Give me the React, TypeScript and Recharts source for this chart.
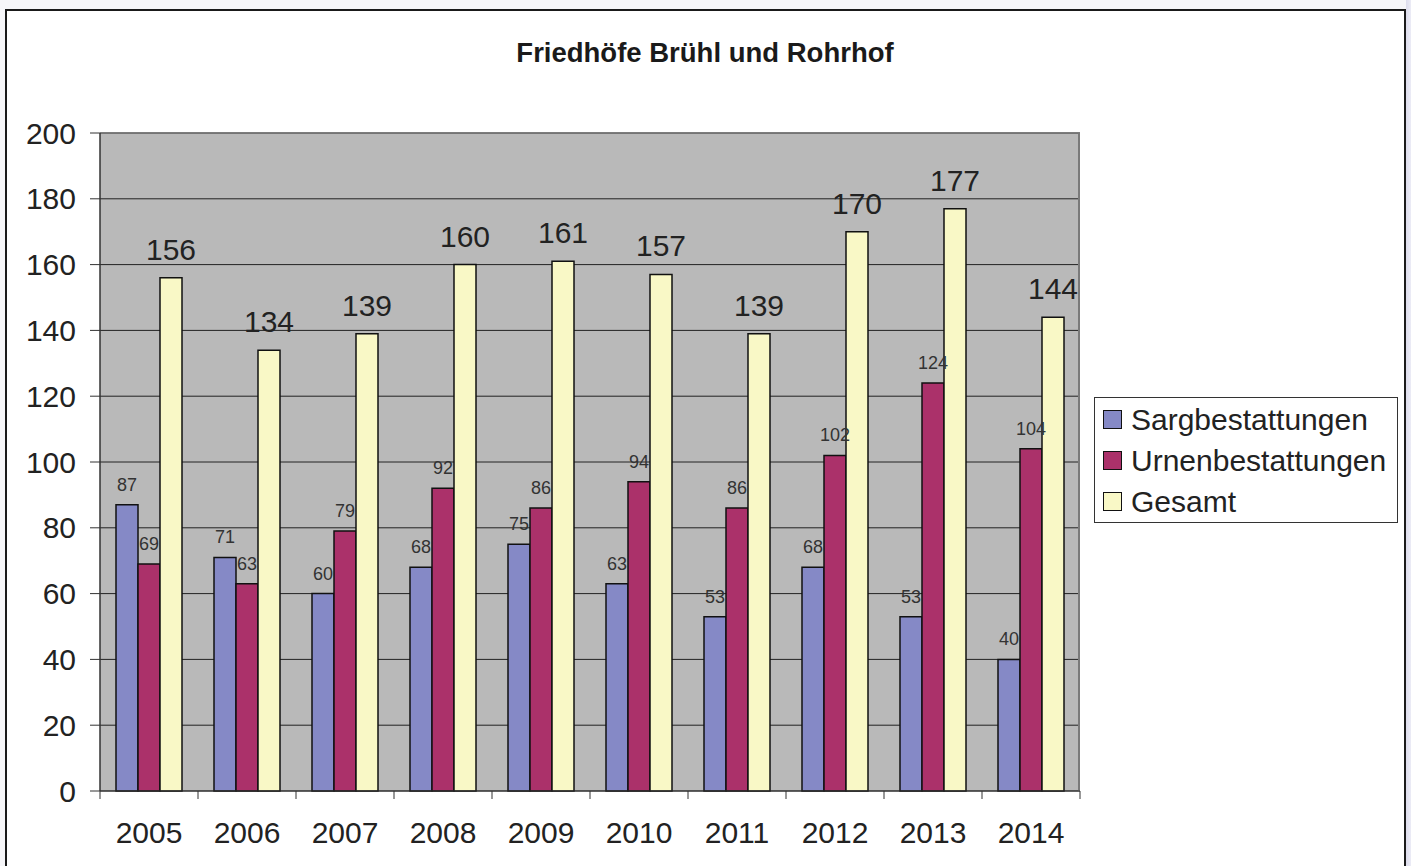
import React from 'react';
import { BarChart, Bar, XAxis, YAxis, CartesianGrid, Legend, LabelList, ReferenceLine } from 'recharts';

const years = ['2005', '2006', '2007', '2008', '2009', '2010', '2011', '2012', '2013', '2014'];
const sarg = [87, 71, 60, 68, 75, 63, 53, 68, 53, 40];
const urnen = [69, 63, 79, 92, 86, 94, 86, 102, 124, 104];
const gesamt = [156, 134, 139, 160, 161, 157, 139, 170, 177, 144];
const yTicks = [0, 20, 40, 60, 80, 100, 120, 140, 160, 180, 200];

const data = years.map((year, i) => ({
  year,
  Sargbestattungen: sarg[i],
  Urnenbestattungen: urnen[i],
  Gesamt: gesamt[i],
}));

const FONT = '"Liberation Sans", Arial, sans-serif';
const CHART_W = 1411;
const CHART_H = 866;
const MARGIN = { top: 133, right: 331, bottom: 25, left: 40 };
const Y_AXIS_W = 60;
const PLOT_LEFT = MARGIN.left + Y_AXIS_W;
const PLOT_RIGHT = CHART_W - MARGIN.right;
const HALF_BAND = (PLOT_RIGHT - PLOT_LEFT) / years.length / 2;

const series = [
  { key: 'Sargbestattungen', color: '#8589c6', big: false },
  { key: 'Urnenbestattungen', color: '#ab316a', big: false },
  { key: 'Gesamt', color: '#f9f8c6', big: true },
];

const YearTick = (props: any) => {
  const { x, y, payload, index } = props;
  const last = index === years.length - 1;
  return (
    <g>
      <line x1={x - HALF_BAND} y1={y} x2={x - HALF_BAND} y2={y + 8} stroke="#333" strokeWidth={1} />
      {last && <line x1={x + HALF_BAND} y1={y} x2={x + HALF_BAND} y2={y + 8} stroke="#333" strokeWidth={1} />}
      <text x={x} y={y + 52} textAnchor="middle" fill="#222" fontSize={30} fontFamily={FONT}>
        {payload.value}
      </text>
    </g>
  );
};

const LegendBox = () => (
  <div
    style={{
      border: '1.5px solid #333',
      background: 'white',
      padding: '1px 8px 0 8px',
      fontFamily: FONT,
      fontSize: 30,
      color: '#222',
      width: 286,
    }}
  >
    {series.map((s) => (
      <div key={s.key} style={{ display: 'flex', alignItems: 'center', height: 41 }}>
        <span
          style={{
            display: 'inline-block',
            width: 17,
            height: 17,
            background: s.color,
            border: '1.5px solid #111',
            marginRight: 9,
            flexShrink: 0,
          }}
        />
        <span style={{ whiteSpace: 'nowrap' }}>{s.key}</span>
      </div>
    ))}
  </div>
);

export default function App() {
  return (
    <div
      style={{
        position: 'absolute',
        left: 0,
        top: 0,
        width: CHART_W,
        height: CHART_H,
        overflow: 'hidden',
        background: '#f6f6f9',
      }}
    >
      <div
        style={{
          position: 'absolute',
          left: 5,
          top: 9,
          width: 1397,
          height: 900,
          border: '2px solid #1a1a1a',
          background: 'white',
        }}
      />
      <div
        style={{
          position: 'absolute',
          left: 1406,
          top: 0,
          width: 5,
          height: CHART_H,
          background: 'linear-gradient(to right, #dcdcec, #ececf6)',
        }}
      />
      <div
        style={{
          position: 'absolute',
          left: 0,
          top: 37,
          width: 1410,
          textAlign: 'center',
          fontFamily: FONT,
          fontWeight: 'bold',
          fontSize: 27.5,
          color: '#1a1a1a',
        }}
      >
        Friedhöfe Brühl und Rohrhof
      </div>
      <div style={{ position: 'absolute', left: 0, top: 0 }}>
        <BarChart
          width={CHART_W}
          height={CHART_H}
          data={data}
          margin={MARGIN}
          barCategoryGap={16}
          barGap={0}
        >
          <CartesianGrid vertical={false} fill="#b9b9b9" stroke="#222" strokeWidth={1} />
          <CartesianGrid
            horizontal={false}
            verticalCoordinatesGenerator={() => [PLOT_RIGHT - 1]}
            stroke="#7a7a7a"
            strokeWidth={2}
          />
          <ReferenceLine y={200} stroke="#777" strokeWidth={1.5} />
          <XAxis
            dataKey="year"
            height={50}
            axisLine={{ stroke: '#333', strokeWidth: 1 }}
            tickLine={false}
            tickSize={0}
            tickMargin={0}
            interval={0}
            tick={<YearTick />}
          />
          <YAxis
            width={Y_AXIS_W}
            domain={[0, 200]}
            ticks={yTicks}
            interval={0}
            axisLine={{ stroke: '#333', strokeWidth: 1.5 }}
            tickLine={{ stroke: '#333' }}
            tickSize={10}
            tickMargin={14}
            tick={{ fill: '#222', fontSize: 30, fontFamily: FONT }}
          />
          <Legend
            layout="horizontal"
            align="center"
            verticalAlign="middle"
            content={<LegendBox />}
            wrapperStyle={{ position: 'absolute', left: 1094, top: 397, width: 'auto', height: 'auto' }}
          />
          {series.map((s) => (
            <Bar
              key={s.key}
              dataKey={s.key}
              fill={s.color}
              stroke="#111"
              strokeWidth={1.5}
              isAnimationActive={false}
            >
              <LabelList
                dataKey={s.key}
                position="top"
                offset={s.big ? 18 : 14}
                fill={s.big ? '#222' : '#333'}
                fontSize={s.big ? 30 : 18}
                fontFamily={FONT}
              />
            </Bar>
          ))}
        </BarChart>
      </div>
    </div>
  );
}
